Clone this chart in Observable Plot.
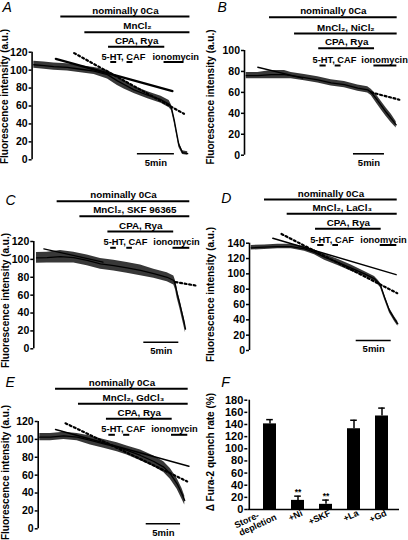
<!DOCTYPE html>
<html><head><meta charset="utf-8">
<script src="https://cdn.jsdelivr.net/npm/d3@7"></script>
<script src="https://cdn.jsdelivr.net/npm/@observablehq/plot@0.6"></script>
<style>
html,body{margin:0;padding:0;background:#fff;}
#fig{position:relative;width:408px;height:540px;overflow:hidden;background:#fff;}
.panel{position:absolute;}
</style></head><body><div id="fig"></div>
<script>
// ---------- DATA (time in minutes, fluorescence in a.u.) ----------
const yTicks120 = [0, 20, 40, 60, 80, 100, 120];
const yTicks100 = [0, 20, 40, 60, 80, 100];
const yTicks140 = [0, 20, 40, 60, 80, 100, 120, 140];
const pulseLabels = ["5-HT, CAF", "ionomycin"];
const scaleLabel = "5min";
const yLabelTrace = "Fluorescence intensity (a.u.)";

// Panel A
const tA = [0, 1.4, 2.7, 4.55, 6.35, 8.15, 9.96, 11.3, 12.2, 13.55, 15.4, 17.2, 18.3, 18.6, 18.96, 19.3, 19.6, 20.1, 20.8];
const vA = [106, 105, 104, 103, 101, 99, 95, 88, 84, 78, 72, 67, 62, 58, 45, 30, 17, 8, 7];
const sA = [4, 4, 4, 4, 4, 4, 5, 5, 5, 4, 4, 4, 4, 3, 3, 3, 3, 2, 2];
const fitA = [[2.97, 112.6], [18.74, 76.6]];
const dotA = [[5.45, 119], [20.3, 51.3]];
const barsA = [["nominally 0Ca", 3.65, 21.1], ["MnCl₂", 6.9, 21.1], ["CPA, Rya", 10.1, 17.7]];
const pulsesA = [[10.4, 11.2], [12.6, 13.4], [17.6, 20.3]];

// Panel B
const tB = [0, 1.87, 4.03, 6.18, 7.26, 9.4, 11.55, 13.7, 15.85, 18, 19.6, 20.16, 20.97, 21.77, 22.58, 23.4, 24.2];
const vB = [76, 76, 77, 77, 76, 74, 72, 69, 67.5, 64, 62.4, 60, 54, 47.5, 41, 35, 29];
const sB = [3, 3, 4, 4, 3, 3, 3, 3, 3, 3, 3, 3, 4, 4, 4, 4, 3];
const fitB = [[1.87, 84], [9.1, 73.6]];
const dotB = [[20.16, 60], [24.7, 53]];
const barsB = [["nominally 0Ca", 3.76, 24.35], ["MnCl₂, NiCl₂", 7.8, 24.35], ["CPA, Rya", 11.7, 20.7]];
const pulsesB = [[11.9, 12.9], [14.35, 15.3], [20.6, 24.3]];

// Panel C
const tC = [0, 1.52, 3.43, 5.33, 7.24, 9.14, 11.05, 12.95, 14.86, 16.76, 18.67, 19.62, 19.86, 20.1, 20.48, 20.81, 21.14, 21.29];
const vC = [101.7, 102, 103, 102, 99, 95, 93, 90.6, 87.6, 84, 80, 76.4, 71, 61.5, 50, 39, 28, 22];
const sC = [6, 6, 7, 6, 6, 6, 6, 6, 6, 5, 5, 5, 5, 5, 5, 5, 5, 4];
const fitC = [[1.05, 111.8], [9.5, 97]];
const dotC = [[19.86, 74.6], [22.7, 70.8]];
const barsC = [["nominally 0Ca", 2.95, 21.9], ["MnCl₂, SKF 96365", 6.2, 21.9], ["CPA, Rya", 10.2, 19.6]];
const pulsesC = [[10.6, 11.4], [12.9, 13.7], [19.5, 21.9]];

// Panel D
const tD = [0, 1.9, 3.8, 5.71, 7.62, 9.05, 10.48, 12.38, 14.29, 16.19, 17.62, 18.1, 18.48, 19.05, 19.76, 20.48, 20.95];
const vD = [134, 134.8, 135.6, 135.6, 132.6, 128, 121.7, 115, 107.4, 100, 93.5, 89, 84.8, 69.6, 52, 41, 34.8];
const sD = [3, 3, 3, 3, 3, 3, 4, 4, 4, 3, 3, 3, 3, 3, 3, 3, 3];
const fitD = [[3.09, 146.5], [20.7, 99]];
const dotD = [[4.33, 152], [20.86, 74.8]];
const barsD = [["nominally 0Ca", 1.9, 20.86], ["MnCl₂, LaCl₃", 5.14, 20.86], ["CPA, Rya", 9.19, 18.57]];
const pulsesD = [[9.5, 10.4], [11.66, 12.47], [18.43, 20.8]];

// Panel E
const tE = [0, 1.55, 3.5, 5.44, 7.38, 9.32, 11.26, 12.7, 14.66, 16.6, 18.05, 19.0, 19.99, 20.7, 21.1];
const vE = [102.5, 102.5, 104, 102.5, 98.8, 95, 91.3, 87.6, 82, 75.3, 69, 61.5, 50.3, 39, 31.7];
const sE = [4, 4, 4, 4, 5, 5, 5, 5, 6, 6, 6, 6, 6, 6, 5];
const fitE = [[2.29, 111], [21.7, 70]];
const dotE = [[3.74, 118], [21.45, 53]];
const barsE = [["nominally 0Ca", 2.29, 21.6], ["MnCl₂, GdCl₃", 5.63, 21.6], ["CPA, Rya", 9.7, 19.27]];
const pulsesE = [[10.05, 11.0], [12.2, 13.1], [19.17, 21.54]];

// Panel F
const fCats = ["Store-depletion", "+Ni", "+SKF", "+La", "+Gd"];
const fMean = [141, 15, 8.5, 133, 154];
const fErr = [7, 7, 7, 14, 13];
const fSig = ["", "**", "**", "", ""];
const fTicks = [0, 20, 40, 60, 80, 100, 120, 140, 160, 180];
const fYLabel = "Δ Fura-2 quench rate (%)";

// ---------- LAYOUT (pixels in the 408x540 figure) ----------
const FONT = "'Liberation Sans', Arial, Helvetica, sans-serif";
const fig = document.getElementById("fig");

function place(svg, ox, oy, w, h) {
  const d = document.createElement("div");
  d.className = "panel";
  d.style.left = ox + "px"; d.style.top = oy + "px";
  d.style.width = w + "px"; d.style.height = h + "px";
  d.appendChild(svg);
  fig.appendChild(d);
}

function tracePanel(c) {
  const L = c.axisX - c.ox;
  const y0 = c.y0 - c.oy, yT = c.yTop - c.oy;
  const x0 = c.t0px - c.ox;
  const rowDy = c.rows.map(r => (r - c.oy) - y0);
  const tr = c.t.map((t, i) => ({t, v: c.v[i], lo: c.v[i] - c.s[i], hi: c.v[i] + c.s[i]}));
  const fit = c.fit.map(([t, v]) => ({t, v}));
  const dot = c.dot.map(([t, v]) => ({t, v}));
  const bars = c.bars.map(([label, start, end]) => ({label, start, end}));
  const pulses = c.pulses.map(([start, end]) => ({start, end}));
  const sb = [{start: c.scaleT, end: c.scaleT + 5, mid: c.scaleT + 2.5}];
  const yMax = c.ticks[c.ticks.length - 1];
  const marks = [
    Plot.axisY({ticks: c.ticks, tickSize: 3, tickPadding: 1.5, strokeWidth: 1.5, label: null, fontSize: 10.5}),
    Plot.ruleX([0], {y1: 0, y2: yMax, dx: L - x0, strokeWidth: 1.6}),
    Plot.areaY(tr, {x: "t", y1: "lo", y2: "hi", fill: "#000", fillOpacity: 0.78}),
    Plot.lineY(tr, {x: "t", y: "v", stroke: "#000", strokeWidth: 1.3}),
    Plot.line(fit, {x: "t", y: "v", stroke: "#000", strokeWidth: c.fitW}),
    Plot.line(dot, {x: "t", y: "v", stroke: "#000", strokeWidth: 2.2, strokeDasharray: "2,2.6"}),
  ];
  bars.forEach((b, i) => {
    marks.push(Plot.ruleY([b], {x1: "start", x2: "end", y: 0, dy: rowDy[i], strokeWidth: 2}));
    marks.push(Plot.text([b], {x: d => (d.start + d.end) / 2, y: 0, text: "label", dy: rowDy[i] - 3, lineAnchor: "bottom", textAnchor: "middle", fontSize: 9.8}));
  });
  marks.push(Plot.ruleY(pulses, {x1: "start", x2: "end", y: 0, dy: rowDy[3], strokeWidth: 2}));
  marks.push(Plot.text([pulseLabels[0]], {x: () => (c.pulses[0][0] + c.pulses[1][1]) / 2, y: 0, text: d => d, dx: c.htDx, dy: rowDy[3] - 2.5, lineAnchor: "bottom", textAnchor: "middle", fontSize: 9.3}));
  marks.push(Plot.text([pulseLabels[1]], {x: () => c.pulses[2][1], y: 0, text: d => d, dx: c.ioDx, dy: rowDy[3] - 2.5, lineAnchor: "bottom", textAnchor: "end", fontSize: 9.3}));
  const sDy = (c.scaleY - c.oy) - y0;
  marks.push(Plot.ruleY(sb, {x1: "start", x2: "end", y: 0, dy: sDy, strokeWidth: 1.6}));
  marks.push(Plot.text(sb, {x: "mid", y: 0, text: () => scaleLabel, dy: sDy + 5, lineAnchor: "top", textAnchor: "middle", fontSize: 9.5}));
  marks.push(Plot.text([c.letter], {text: d => d, frameAnchor: "top-left", dx: c.letterX - c.ox - L, dy: c.letterY - c.oy, lineAnchor: "top", textAnchor: "start", fontSize: 14, fontStyle: "italic", fontWeight: "normal"}));
  marks.push(Plot.text([yLabelTrace], {text: d => d, frameAnchor: "top-left", rotate: -90, dx: c.labX - c.ox - L, dy: c.labY - c.oy, textAnchor: "middle", lineAnchor: "middle", fontSize: 10}));
  const svg = Plot.plot({
    width: c.W, height: c.H,
    marginLeft: L, marginRight: 0, marginTop: 0, marginBottom: c.H - y0,
    x: {domain: [0, 5], range: [x0, x0 + 5 * c.ppm], axis: null},
    y: {domain: [0, yMax], range: [y0, yT]},
    style: {fontFamily: FONT, fontWeight: "bold", fontSize: "10px", color: "#000", background: "transparent", overflow: "visible"},
    marks
  });
  place(svg, c.ox, c.oy, c.W, c.H);
}

tracePanel({ox: 0, oy: 0, W: 204, H: 170, axisX: 31.6, y0: 159.3, yTop: 51.7, ticks: yTicks120, t0px: 33.3, ppm: 7.4,
  rows: [16, 31.7, 46.3, 61.5], scaleT: 14.0, scaleY: 153.3, letter: "A", letterX: 2, letterY: 2, labX: 4.5, labY: 96,
  t: tA, v: vA, s: sA, fit: fitA, dot: dotA, bars: barsA, pulses: pulsesA, fitW: 2.2, htDx: 1.5, ioDx: 15});
tracePanel({ox: 204, oy: 0, W: 204, H: 170, axisX: 244, y0: 154.7, yTop: 50, ticks: yTicks100, t0px: 245.7, ppm: 6.2,
  rows: [16.7, 33, 47.7, 65], scaleT: 17.3, scaleY: 153.3, letter: "B", letterX: 217, letterY: 2, labX: 210.5, labY: 96.5,
  t: tB, v: vB, s: sB, fit: fitB, dot: dotB, bars: barsB, pulses: pulsesB, fitW: 1.3, htDx: 4, ioDx: 11});
tracePanel({ox: 0, oy: 170, W: 204, H: 185, axisX: 33.3, y0: 348.3, yTop: 241, ticks: yTicks120, t0px: 36, ppm: 7,
  rows: [200.7, 215.7, 231, 247.3], scaleT: 15.33, scaleY: 341.7, letter: "C", letterX: 5, letterY: 195, labX: 5, labY: 300,
  t: tC, v: vC, s: sC, fit: fitC, dot: dotC, bars: barsC, pulses: pulsesC, fitW: 1.3, htDx: 4, ioDx: 10});
tracePanel({ox: 204, oy: 170, W: 204, H: 185, axisX: 249, y0: 350, yTop: 242.7, ticks: yTicks140, t0px: 250.7, ppm: 7,
  rows: [199, 213.3, 228.3, 244.5], scaleT: 15, scaleY: 340, letter: "D", letterX: 220.7, letterY: 193, labX: 210, labY: 294,
  t: tD, v: vD, s: sD, fit: fitD, dot: dotD, bars: barsD, pulses: pulsesD, fitW: 1.5, htDx: 4, ioDx: 10});
tracePanel({ox: 0, oy: 355, W: 204, H: 185, axisX: 37.7, y0: 528.3, yTop: 421, ticks: yTicks120, t0px: 39.3, ppm: 6.87,
  rows: [388.3, 403.3, 418.3, 434.3], scaleT: 15.49, scaleY: 523.3, letter: "E", letterX: 5, letterY: 376.7, labX: 5, labY: 472,
  t: tE, v: vE, s: sE, fit: fitE, dot: dotE, bars: barsE, pulses: pulsesE, fitW: 1.5, htDx: 4, ioDx: 10});

// Panel F: bar chart
(function () {
  const ox = 204, oy = 355, W = 204, H = 185;
  const L = 247.3 - ox, y0 = 509 - oy, yT = 399.7 - oy;
  const xRange = [49.6, 193.7], pIn = 0.535, pOut = 0.2675;
  const data = fCats.map((cat, i) => ({cat, mean: fMean[i], top: fMean[i] + fErr[i], sig: fSig[i]}));
  const band = d3.scaleBand().domain(fCats).range(xRange).paddingInner(pIn).paddingOuter(pOut);
  const c0 = band(fCats[0]) + band.bandwidth() / 2;
  const nb = "\u00a0".repeat(6);
  const svg = Plot.plot({
    width: W, height: H, marginLeft: L, marginRight: 9, marginTop: 0, marginBottom: H - y0,
    x: {type: "band", domain: fCats, range: xRange, paddingInner: pIn, paddingOuter: pOut},
    y: {domain: [0, 180], range: [y0, yT]},
    style: {fontFamily: FONT, fontWeight: "bold", fontSize: "10px", color: "#000", background: "transparent", overflow: "visible"},
    marks: [
      Plot.barY(data, {x: "cat", y: "mean", fill: "#000"}),
      Plot.ruleX(data, {x: "cat", y1: "mean", y2: "top", strokeWidth: 1.5}),
      Plot.tickY(data, {x: "cat", y: "top", insetLeft: 3.2, insetRight: 3.2, strokeWidth: 1.5}),
      Plot.text(data, {x: "cat", y: "top", text: "sig", dy: -1.5, lineAnchor: "bottom", fontSize: 8.5}),
      Plot.ruleY([0], {strokeWidth: 1.6}),
      Plot.ruleX([fCats[0]], {y1: 0, y2: 180, dx: L - c0, strokeWidth: 1.6}),
      Plot.axisY({ticks: fTicks, tickSize: 3, tickPadding: 1.5, strokeWidth: 1.5, label: null, fontSize: 11}),
      Plot.axisX({tickSize: 0, tickPadding: 3, tickRotate: -25, label: null, fontSize: 9, dx: 4,
        tickFormat: d => d === "Store-depletion" ? "Store-" + nb + "\ndepletion" : d}),
      Plot.text(["F"], {text: d => d, frameAnchor: "top-left", dx: 220.7 - ox - L, dy: 376.7 - oy, lineAnchor: "top", textAnchor: "start", fontSize: 14, fontStyle: "italic", fontWeight: "normal"}),
      Plot.text([fYLabel], {text: d => d, frameAnchor: "top-left", rotate: -90, dx: 210.7 - ox - L, dy: 451.7 - oy, textAnchor: "middle", lineAnchor: "middle", fontSize: 10})
    ]
  });
  place(svg, ox, oy, W, H);
})();
</script>
</body></html>
